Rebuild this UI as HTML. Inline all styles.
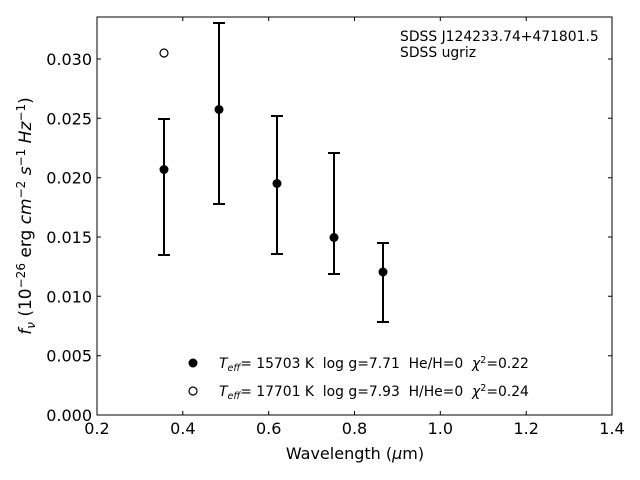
<!DOCTYPE html>
<html><head><style>body{margin:0;background:#fff}svg{display:block}text{font-family:"DejaVu Sans","Liberation Sans",sans-serif;fill:#000;white-space:pre}</style></head><body>
<svg width="640" height="480" viewBox="0 0 640 480" xmlns="http://www.w3.org/2000/svg" xml:space="preserve">
<rect x="97" y="17" width="515" height="398" fill="none" stroke="#000" stroke-width="1"/>
<g stroke="#000" stroke-width="1">
<path d="M97 415v-4M182.8 415v-4M268.7 415v-4M354.5 415v-4M440.3 415v-4M526.2 415v-4M612 415v-4"/>
<path d="M97 17v4M182.8 17v4M268.7 17v4M354.5 17v4M440.3 17v4M526.2 17v4M612 17v4"/>
<path d="M97 415h4M97 355.7h4M97 296.3h4M97 237h4M97 177.7h4M97 118.3h4M97 59h4"/>
<path d="M612 415h-4M612 355.7h-4M612 296.3h-4M612 237h-4M612 177.7h-4M612 118.3h-4M612 59h-4"/>
</g>
<g font-size="16" text-anchor="middle">
<text x="97" y="434">0.2</text><text x="182.8" y="434">0.4</text><text x="268.7" y="434">0.6</text><text x="354.5" y="434">0.8</text><text x="440.3" y="434">1.0</text><text x="526.2" y="434">1.2</text><text x="612" y="434">1.4</text>
</g>
<g font-size="16" text-anchor="end">
<text x="92" y="421">0.000</text><text x="92" y="361.7">0.005</text><text x="92" y="302.3">0.010</text><text x="92" y="243">0.015</text><text x="92" y="183.7">0.020</text><text x="92" y="124.3">0.025</text><text x="92" y="65">0.030</text>
</g>
<text x="355" y="459" font-size="16" text-anchor="middle">Wavelength (<tspan font-style="italic">μ</tspan>m)</text>
<text transform="translate(31,216) rotate(-90)" font-size="17" text-anchor="middle"><tspan font-style="italic">f<tspan font-size="12" dy="4">ν</tspan></tspan><tspan dy="-4"> (10</tspan><tspan font-size="12" dy="-6">−26</tspan><tspan dy="6"> erg </tspan><tspan font-style="italic">cm</tspan><tspan font-size="12" dy="-6">−2</tspan><tspan dy="6" font-style="italic"> s</tspan><tspan font-size="12" dy="-6">−1</tspan><tspan dy="6" font-style="italic"> Hz</tspan><tspan font-size="12" dy="-6">−1</tspan><tspan dy="6">)</tspan></text>
<text x="400" y="41" font-size="13.9">SDSS J124233.74+471801.5</text>
<text x="400" y="57" font-size="13.9">SDSS ugriz</text>
<g stroke="#000" stroke-width="2">
<path d="M164 119v136M158 119h12M158 255h12"/>
<path d="M219 23v181M213 23h12M213 204h12"/>
<path d="M277 116v138M271 116h12M271 254h12"/>
<path d="M334 153v121M328 153h12M328 274h12"/>
<path d="M383 243v79M377 243h12M377 322h12"/>
</g>
<g fill="#000"><circle cx="164" cy="169.5" r="4.5"/><circle cx="219" cy="109.5" r="4.5"/><circle cx="277" cy="183.5" r="4.5"/><circle cx="334" cy="237.5" r="4.5"/><circle cx="383" cy="272" r="4.5"/><circle cx="193" cy="363" r="4.5"/></g>
<circle cx="164" cy="53" r="4" fill="#fff" stroke="#000" stroke-width="1.2"/>
<circle cx="193" cy="391" r="4" fill="#fff" stroke="#000" stroke-width="1.2"/>
<g font-size="13.9">
<text x="219" y="368"><tspan font-style="italic">T<tspan font-size="9.5" dy="3">eff</tspan></tspan><tspan dy="-3">= 15703 K  log g=7.71  He/H=0  </tspan><tspan font-style="italic">χ</tspan><tspan font-size="9.5" dy="-5">2</tspan><tspan dy="5">=0.22</tspan></text>
<text x="219" y="396"><tspan font-style="italic">T<tspan font-size="9.5" dy="3">eff</tspan></tspan><tspan dy="-3">= 17701 K  log g=7.93  H/He=0  </tspan><tspan font-style="italic">χ</tspan><tspan font-size="9.5" dy="-5">2</tspan><tspan dy="5">=0.24</tspan></text>
</g>
</svg>
</body></html>
